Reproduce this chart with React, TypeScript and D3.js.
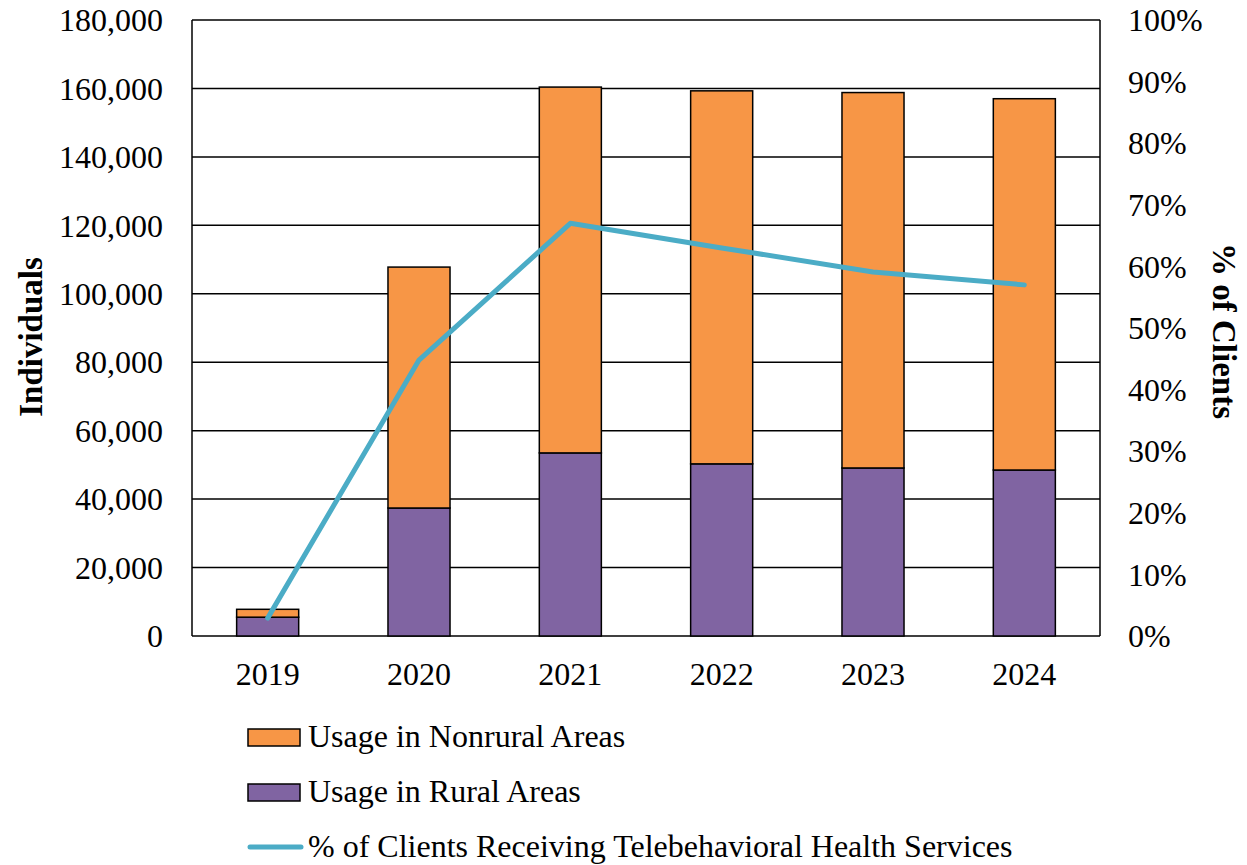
import React from "react";
import * as d3 from "d3";

const years = ["2019", "2020", "2021", "2022", "2023", "2024"];
const rural = [5500, 37400, 53500, 50300, 49100, 48500];
const nonrural = [2300, 70400, 106900, 109000, 109700, 108500];
const pctClients = [2.9, 44.8, 67.0, 63.0, 59.1, 57.0];
const leftTicks = [0, 20000, 40000, 60000, 80000, 100000, 120000, 140000, 160000, 180000];
const rightTicks = [0, 10, 20, 30, 40, 50, 60, 70, 80, 90, 100];
const legendLabels = [
  "Usage in Nonrural Areas",
  "Usage in Rural Areas",
  "% of Clients Receiving Telebehavioral Health Services",
];

const W = 1247;
const H = 865;
const M = { left: 192, right: 1100, top: 20, bottom: 636 };
const FONT = "'Liberation Serif', 'Times New Roman', serif";
const FS = 32;
const ORANGE = "#F79646";
const PURPLE = "#8064A2";
const TEAL = "#4BACC6";

export default function App() {
  const x = d3.scaleBand<string>().domain(years).range([M.left, M.right]).paddingInner(0.59).paddingOuter(0.295);
  const y = d3.scaleLinear().domain([0, 180000]).range([M.bottom, M.top]);
  const y2 = d3.scaleLinear().domain([0, 100]).range([M.bottom, M.top]);
  const fmt = d3.format(",");
  const stack = d3.stack<number>().keys(["rural", "nonrural"]).value((i, k) => (k === "rural" ? rural[i] : nonrural[i]));
  const series = stack(years.map((_, i) => i));
  const colors = [PURPLE, ORANGE];
  const line = d3
    .line<number>()
    .x((_, i) => (x(years[i]) as number) + x.bandwidth() / 2)
    .y((d) => y2(d));

  return (
    <svg width={W} height={H} style={{ position: "absolute", left: 0, top: 0, background: "#fff" }}>
      <rect x={0} y={0} width={W} height={H} fill="#fff" />
      {leftTicks.map((t) => (
        <line key={t} x1={M.left} x2={M.right} y1={y(t)} y2={y(t)} stroke="#000" strokeWidth={1.5} />
      ))}
      <line x1={M.left} x2={M.left} y1={M.top} y2={M.bottom} stroke="#000" strokeWidth={1.5} />
      <line x1={M.right} x2={M.right} y1={M.top} y2={M.bottom} stroke="#000" strokeWidth={1.5} />
      {series.map((s, si) =>
        s.map((d, i) => (
          <rect
            key={`${si}-${i}`}
            x={x(years[i])}
            width={x.bandwidth()}
            y={y(d[1])}
            height={y(d[0]) - y(d[1])}
            fill={colors[si]}
            stroke="#000"
            strokeWidth={1.5}
          />
        ))
      )}
      <path d={line(pctClients) || ""} fill="none" stroke={TEAL} strokeWidth={5} strokeLinejoin="round" strokeLinecap="round" />
      {leftTicks.map((t) => (
        <text key={t} x={163} y={y(t)} dy="0.35em" textAnchor="end" fontFamily={FONT} fontSize={FS}>
          {fmt(t)}
        </text>
      ))}
      {rightTicks.map((t) => (
        <text key={t} x={1128} y={y2(t)} dy="0.35em" textAnchor="start" fontFamily={FONT} fontSize={FS}>
          {t}%
        </text>
      ))}
      {years.map((yr) => (
        <text key={yr} x={(x(yr) as number) + x.bandwidth() / 2} y={685} textAnchor="middle" fontFamily={FONT} fontSize={FS}>
          {yr}
        </text>
      ))}
      <text transform={`translate(42,337) rotate(-90)`} textAnchor="middle" fontFamily={FONT} fontSize={33} fontWeight="bold">
        Individuals
      </text>
      <text transform={`translate(1213,331) rotate(90)`} textAnchor="middle" fontFamily={FONT} fontSize={33} fontWeight="bold">
        % of Clients
      </text>
      <rect x={248} y={729} width={52} height={17} fill={ORANGE} stroke="#000" strokeWidth={1.5} />
      <text x={308} y={747} fontFamily={FONT} fontSize={FS}>{legendLabels[0]}</text>
      <rect x={248} y={784} width={52} height={17} fill={PURPLE} stroke="#000" strokeWidth={1.5} />
      <text x={308} y={802} fontFamily={FONT} fontSize={FS}>{legendLabels[1]}</text>
      <line x1={250} x2={301} y1={847} y2={847} stroke={TEAL} strokeWidth={5} strokeLinecap="round" />
      <text x={308} y={857} fontFamily={FONT} fontSize={FS}>{legendLabels[2]}</text>
    </svg>
  );
}
